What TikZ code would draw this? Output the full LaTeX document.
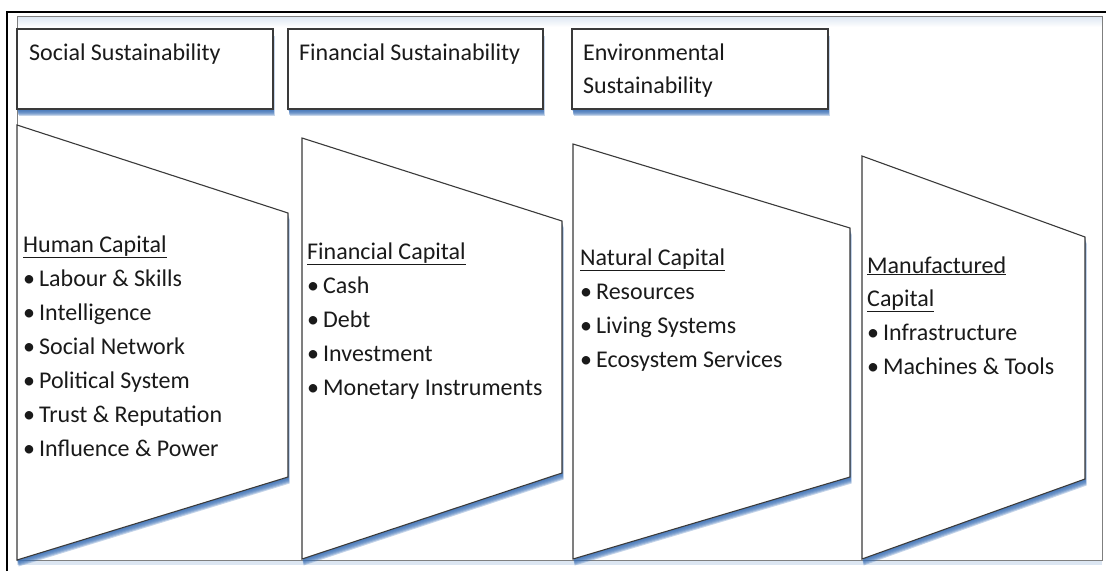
\documentclass[tikz,border=0pt]{standalone}
\usepackage{fontspec}
\setmainfont{Carlito}
\definecolor{shblue}{HTML}{3A6FB5}
\definecolor{paleblue}{HTML}{DCE6F2}
\definecolor{edge}{HTML}{3A3A3A}
\definecolor{framegray}{HTML}{7F7F7F}
\definecolor{txt}{HTML}{1A1A1A}
\newcommand\mydropshadow[1]{%
  \foreach \k in {1.5,2.5,3.5,4.5,5.5,6.5}{%
    \fill[shblue,opacity=0.3,xshift=0.25*\k pt,yshift=-\k pt] #1;}}
\tikzset{
  lbl/.style={anchor=base west, inner sep=0pt, text=txt, font=\fontsize{24}{34}\selectfont},
  shapeline/.style={draw=edge, fill=white, line width=1.1pt},
}
\begin{document}
\begin{tikzpicture}[x=1pt,y=-1pt]
\useasboundingbox (0,0) rectangle (1106,571);
% outer black frame
\draw[line width=2.6pt] (7,571) -- (7,12) -- (1106,12);
% inner frame with pale glow
\shade[top color=paleblue, bottom color=white] (17,16) rectangle (1102,27);
\fill[paleblue] (17,560) rectangle (1102,565);
\draw[framegray, line width=1pt] (17,16) rectangle (1102,560);

% top boxes
\mydropshadow{(17,29) rectangle (273,109)}
\mydropshadow{(288,29) rectangle (543,109)}
\mydropshadow{(572,29) rectangle (828,109)}
\draw[shapeline] (17,29) rectangle (273,109);
\draw[shapeline] (288,29) rectangle (543,109);
\draw[shapeline] (572,29) rectangle (828,109);
\node[lbl] (ss) at (29,60) {Social Sustainability};
\node[lbl] (fs) at (299,60) {Financial Sustainability};
\node[lbl] (es1) at (583,60) {Environmental};
\node[lbl] (es2) at (583,93) {Sustainability};

% trapezoids
\mydropshadow{(17,125) -- (288,213) -- (288,477) -- (17,560) -- cycle}
\mydropshadow{(302,138) -- (562,221) -- (562,473) -- (302,559) -- cycle}
\mydropshadow{(573,144) -- (850,228) -- (850,477) -- (573,559) -- cycle}
\mydropshadow{(862,156) -- (1085,237) -- (1085,479) -- (862,559) -- cycle}
\draw[shapeline] (17,125) -- (288,213) -- (288,477) -- (17,560) -- cycle;
\draw[shapeline] (302,138) -- (562,221) -- (562,473) -- (302,559) -- cycle;
\draw[shapeline] (573,144) -- (850,228) -- (850,477) -- (573,559) -- cycle;
\draw[shapeline] (862,156) -- (1085,237) -- (1085,479) -- (862,559) -- cycle;

% Human capital
\node[lbl] (hc) at (23,252) {\underline{Human Capital}};
\foreach \t [count=\i] in {Labour \& Skills, Intelligence, Social Network, Political System, Trust \& Reputation, Influence \& Power}
  \node[lbl] (h\i) at (23,252+34*\i) {•\,\t};
% Financial capital
\node[lbl] (fc) at (307,259) {\underline{Financial Capital}};
\foreach \t [count=\i] in {Cash, Debt, Investment, Monetary Instruments}
  \node[lbl] (f\i) at (307,259+34*\i) {•\,\t};
% Natural capital
\node[lbl] (nc) at (580,265) {\underline{Natural Capital}};
\foreach \t [count=\i] in {Resources, Living Systems, Ecosystem Services}
  \node[lbl] (n\i) at (580,265+34*\i) {•\,\t};
% Manufactured capital
\node[lbl] (mc1) at (867,273) {\underline{Manufactured}};
\node[lbl] (mc2) at (867,306) {\underline{Capital}};
\foreach \t [count=\i] in {Infrastructure, Machines \& Tools}
  \node[lbl] (m\i) at (867,306+34*\i) {•\,\t};
\end{tikzpicture}
\end{document}
